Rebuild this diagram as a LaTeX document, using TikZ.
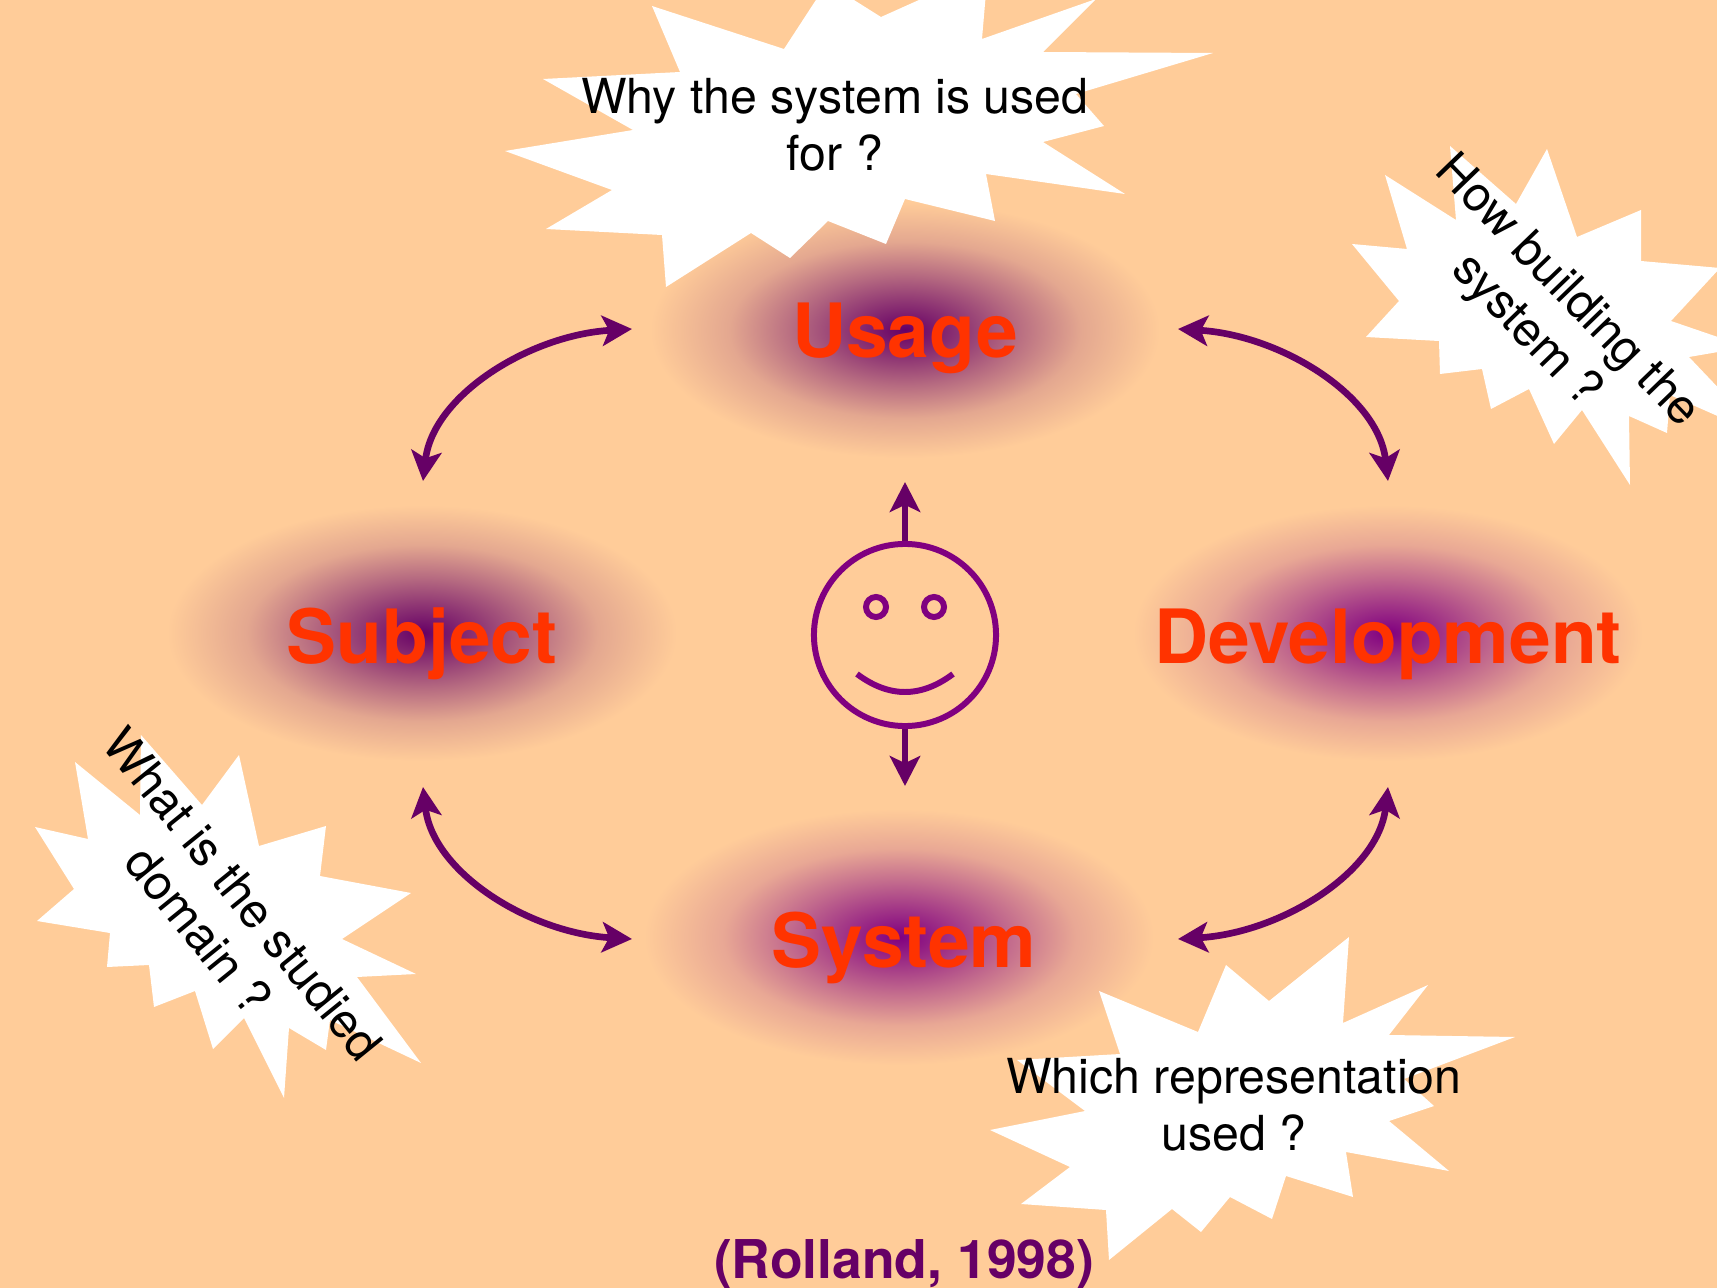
\documentclass[tikz,border=0pt]{standalone}
\usepackage{fontspec}
\setmainfont{TeX Gyre Heros}
\usetikzlibrary{arrows.meta}

\definecolor{peach}{HTML}{FFCC99}
\definecolor{darkplum}{HTML}{660066}
\definecolor{plum}{HTML}{800080}
\definecolor{flame}{HTML}{FF3300}

\colorlet{darkone}{peach!25!darkplum}
\colorlet{darktwo}{peach!52!darkplum}
\colorlet{darkthree}{peach!82!darkplum}
\colorlet{plumone}{peach!25!plum}
\colorlet{plumtwo}{peach!52!plum}
\colorlet{plumthree}{peach!82!plum}

\pgfdeclareradialshading{darkblob}{\pgfpoint{0bp}{0bp}}{color(0bp)=(darkplum); color(5.25bp)=(darkone); color(10.75bp)=(darktwo); color(17.25bp)=(darkthree); color(25bp)=(peach); color(50bp)=(peach)}
\pgfdeclareradialshading{plumblob}{\pgfpoint{0bp}{0bp}}{color(0bp)=(plum); color(5.25bp)=(plumone); color(10.75bp)=(plumtwo); color(17.25bp)=(plumthree); color(25bp)=(peach); color(50bp)=(peach)}

\begin{document}
\begin{tikzpicture}[
    x = 0.01cm, y = -0.01cm, % one unit is one pixel of the picture
    > = {Stealth[length=8.5pt, width=8.6pt, inset=2pt]}, % arrow head style
    link/.style = {<->, darkplum, line width=1.9pt}, % arrows between the topics
    spoke/.style = {->, darkplum, line width=1.6pt}, % arrows out of the face
    topic/.style = {anchor=base, flame, font=\fontsize{21.3}{26}\selectfont\bfseries},
    burst/.style = {fill=white},
    question/.style = {align=center, font=\fontsize{13.73}{16.2}\selectfont},
    faceline/.style = {plum, line width=1.7pt}
]

\useasboundingbox (0, 0) rectangle (1717, 1288);
\clip (0, 0) rectangle (1717, 1288);
\fill[peach] (0, 0) rectangle (1717, 1288);

% Blobs
\shade[shading=darkblob] (905, 330) ellipse [x radius=255, y radius=128];
\shade[shading=darkblob] (422, 633) ellipse [x radius=255, y radius=128];
\shade[shading=plumblob] (1388, 633) ellipse [x radius=255, y radius=128];
\shade[shading=plumblob] (899, 937) ellipse [x radius=255, y radius=128];

% Bursts
\fill[burst] (652, 6) -- (784, 49) -- (827, -17) -- (881, 17) -- (988, -31) -- (982, 39)
    -- (1096, -1) -- (1043, 52) -- (1213, 53) -- (1076, 94) -- (1104, 126) -- (1043, 142)
    -- (1125, 194) -- (986, 174) -- (995, 221) -- (905, 199) -- (886, 244) -- (828, 221)
    -- (790, 258) -- (751, 233) -- (666, 287) -- (662, 235) -- (546, 229) -- (612, 190)
    -- (505, 151) -- (633, 130) -- (543, 79) -- (680, 72) -- cycle;
\fill[burst] (1450, 146) -- (1516, 204) -- (1547, 149) -- (1577, 237) -- (1641, 210)
    -- (1641, 261) -- (1720, 268) -- (1671, 321) -- (1747, 347) -- (1689, 357)
    -- (1765, 437) -- (1670, 395) -- (1667, 433) -- (1629, 416) -- (1630, 485)
    -- (1582, 410) -- (1554, 444) -- (1529, 389) -- (1491, 409) -- (1482, 369)
    -- (1440, 374) -- (1439, 341) -- (1366, 337) -- (1399, 301) -- (1352, 244)
    -- (1407, 249) -- (1385, 175) -- (1456, 220) -- cycle;
\fill[burst] (141, 735) -- (202, 805) -- (239, 755) -- (259, 846) -- (326, 826)
    -- (320, 876) -- (411, 893) -- (342, 939) -- (416, 974) -- (357, 977)
    -- (421, 1063) -- (330, 1020) -- (326, 1050) -- (289, 1028) -- (284, 1098)
    -- (244, 1018) -- (213, 1049) -- (195, 991) -- (154, 1007) -- (149, 965)
    -- (107, 967) -- (110, 933) -- (37, 921) -- (74, 889) -- (35, 827)
    -- (88, 839) -- (75, 762) -- (140, 815) -- cycle;
\fill[burst] (1349, 937) -- (1343, 1023) -- (1428, 985) -- (1389, 1035) -- (1515, 1037)
    -- (1404, 1079) -- (1434, 1106) -- (1389, 1121) -- (1449, 1171) -- (1346, 1152)
    -- (1353, 1197) -- (1286, 1176) -- (1272, 1219) -- (1230, 1197) -- (1201, 1232)
    -- (1172, 1209) -- (1109, 1260) -- (1106, 1210) -- (1021, 1204) -- (1070, 1167)
    -- (990, 1130) -- (1085, 1111) -- (1017, 1060) -- (1120, 1054) -- (1099, 991)
    -- (1198, 1032) -- (1226, 965) -- (1269, 1001) -- cycle;

% Nodes
\node[question] (why) at (835, 125) {Why the system is used\\for ?};
\node[question, rotate=-46] (how) at (1546, 312) {How building the\\system ?};
\node[question, rotate=-51] (what) at (221, 912) {What is the studied\\domain ?};
\node[question] (which) at (1234, 1105) {Which representation\\used ?};

\node[topic] (usage) at (905, 358) {Usage};
\node[topic] (subject) at (422, 663) {Subject};
\node[topic] (development) at (1388, 663) {Development};
\node[topic] (system) at (904, 967) {System};

\node[anchor=base, darkplum, font=\fontsize{15.2}{18}\selectfont\bfseries] (rolland) at (904, 1278) {(Rolland, 1998)};

\node[draw, circle, faceline, minimum size=1.82cm, inner sep=0pt] (face) at (905, 635) {};
\node[draw, circle, faceline, minimum size=0.2cm, inner sep=0pt] (lefteye) at (876, 607) {};
\node[draw, circle, faceline, minimum size=0.2cm, inner sep=0pt] (righteye) at (934, 607) {};
\coordinate (smilestart) at (857, 674);
\coordinate (smileend) at (953, 674);

\coordinate (usagetip) at (905, 482);
\coordinate (systemtip) at (905, 786);
\coordinate (usagewest) at (632, 329);
\coordinate (usageeast) at (1178, 329);
\coordinate (subjectnorth) at (423, 481);
\coordinate (subjectsouth) at (423, 787);
\coordinate (developmentnorth) at (1388, 481);
\coordinate (developmentsouth) at (1388, 787);
\coordinate (systemwest) at (632, 939);
\coordinate (systemeast) at (1178, 939);

% Edges
\draw[faceline] (smilestart) .. controls (889, 698) and (921, 698) .. (smileend);
\draw[spoke] (face) -- (usagetip);
\draw[spoke] (face) -- (systemtip);
\draw[link] (usagewest) .. controls (530, 335) and (433, 395) .. (subjectnorth);
\draw[link] (usageeast) .. controls (1280, 335) and (1378, 395) .. (developmentnorth);
\draw[link] (systemwest) .. controls (530, 933) and (433, 873) .. (subjectsouth);
\draw[link] (systemeast) .. controls (1280, 933) and (1378, 873) .. (developmentsouth);

\end{tikzpicture}
\end{document}
